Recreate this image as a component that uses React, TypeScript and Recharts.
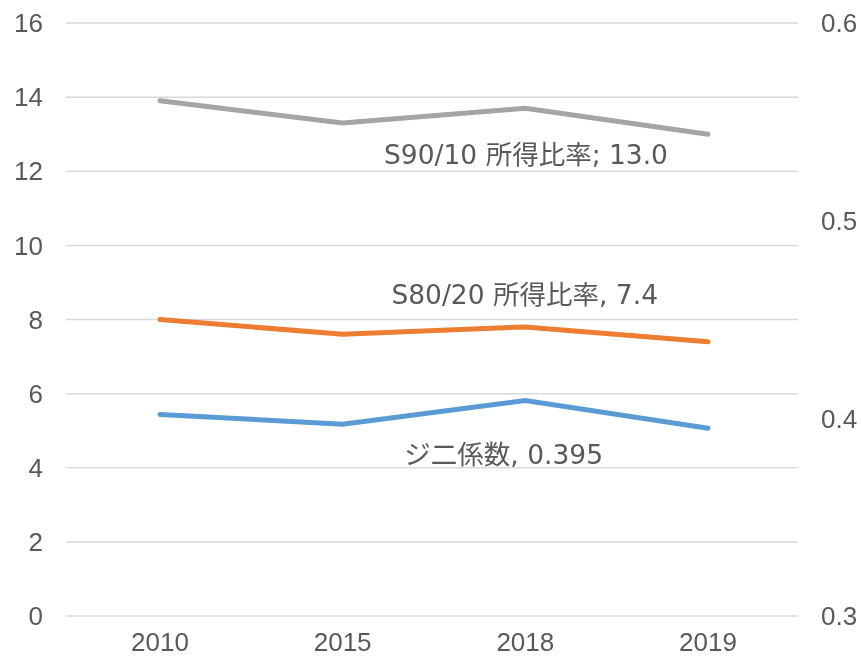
import React from "react";
import { LineChart, Line, XAxis, YAxis, CartesianGrid } from "recharts";

const years = ["2010", "2015", "2018", "2019"];
const s9010 = [13.9, 13.3, 13.7, 13.0];
const s8020 = [8.0, 7.6, 7.8, 7.4];
const gini = [0.402, 0.397, 0.409, 0.395];
const leftTicks = [0, 2, 4, 6, 8, 10, 12, 14, 16];
const rightTicks = [0.3, 0.4, 0.5, 0.6];
const labelS9010 = "S90/10 所得比率; 13.0";
const labelS8020 = "S80/20 所得比率, 7.4";
const labelGini = "ジ二係数, 0.395";

const data = years.map((y, i) => ({ year: y, s9010: s9010[i], s8020: s8020[i], gini: gini[i] }));

const FONT = "'Liberation Sans', Arial, 'Noto Sans CJK JP', sans-serif";
const LABEL_FONT = "'DejaVu Sans', 'Noto Sans CJK JP', sans-serif";
const TEXT = "#595959";

const makeLabel = (text: string, dx: number, dy: number) => (props: any) => {
  const { x, y, index } = props;
  if (index !== years.length - 1) return null;
  return (
    <text x={x + dx} y={y + dy} textAnchor="end" dominantBaseline="central" fill={TEXT} fontSize={26.5} fontFamily={LABEL_FONT}>
      {text}
    </text>
  );
};

export default function App() {
  const tickStyle = { fill: TEXT, fontSize: 26, fontFamily: FONT };
  return (
    <div style={{ position: "fixed", left: 0, top: 0, width: 861, height: 659, overflow: "hidden" }}>
      <LineChart width={861} height={659} data={data} margin={{ top: 23, right: 0, bottom: 0, left: 0 }}>
        <CartesianGrid yAxisId="left" vertical={false} stroke="#d9d9d9" strokeWidth={1.5} />
        <XAxis
          dataKey="year"
          axisLine={false}
          tickLine={false}
          tickSize={0}
          tickMargin={17}
          height={43}
          padding={{ left: 94, right: 90 }}
          tick={tickStyle}
        />
        <YAxis
          yAxisId="left"
          domain={[0, 16]}
          ticks={leftTicks}
          width={66}
          axisLine={false}
          tickLine={false}
          tickSize={0}
          tickMargin={23}
          tick={tickStyle}
          interval={0}
        />
        <YAxis
          yAxisId="right"
          orientation="right"
          domain={[0.3, 0.6]}
          ticks={rightTicks}
          width={63}
          axisLine={false}
          tickLine={false}
          tickSize={0}
          tickMargin={23}
          tick={tickStyle}
          interval={0}
          tickFormatter={(v: number) => v.toFixed(1)}
        />
        <Line
          yAxisId="left"
          dataKey="s9010"
          stroke="#a5a5a5"
          strokeWidth={5}
          strokeLinecap="round"
          dot={false}
          isAnimationActive={false}
          label={makeLabel(labelS9010, -40, 20)}
        />
        <Line
          yAxisId="left"
          dataKey="s8020"
          stroke="#ed7d31"
          strokeWidth={5}
          strokeLinecap="round"
          dot={false}
          isAnimationActive={false}
          label={makeLabel(labelS8020, -50, -47)}
        />
        <Line
          yAxisId="right"
          dataKey="gini"
          stroke="#5b9bd5"
          strokeWidth={5}
          strokeLinecap="round"
          dot={false}
          isAnimationActive={false}
          label={makeLabel(labelGini, -105, 26)}
        />
      </LineChart>
    </div>
  );
}
